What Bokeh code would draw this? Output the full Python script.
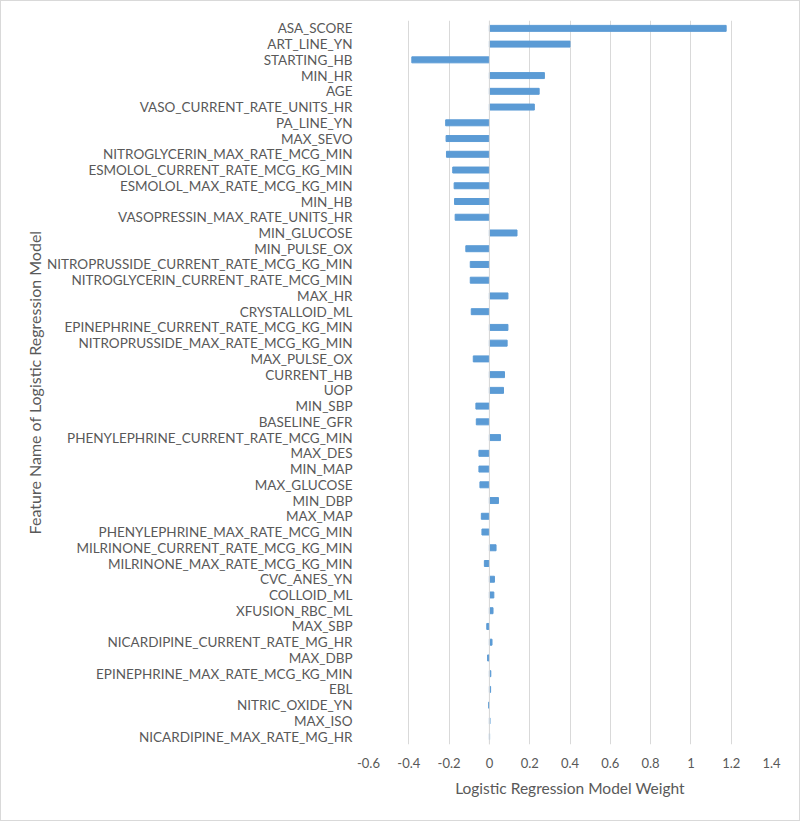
from bokeh.plotting import figure
from bokeh.layouts import column
from bokeh.models import FactorRange, FixedTicker, Span
from bokeh.embed import file_html
from bokeh.resources import INLINE

features = [
    "ASA_SCORE", "ART_LINE_YN", "STARTING_HB", "MIN_HR", "AGE",
    "VASO_CURRENT_RATE_UNITS_HR", "PA_LINE_YN", "MAX_SEVO",
    "NITROGLYCERIN_MAX_RATE_MCG_MIN", "ESMOLOL_CURRENT_RATE_MCG_KG_MIN",
    "ESMOLOL_MAX_RATE_MCG_KG_MIN", "MIN_HB", "VASOPRESSIN_MAX_RATE_UNITS_HR",
    "MIN_GLUCOSE", "MIN_PULSE_OX", "NITROPRUSSIDE_CURRENT_RATE_MCG_KG_MIN",
    "NITROGLYCERIN_CURRENT_RATE_MCG_MIN", "MAX_HR", "CRYSTALLOID_ML",
    "EPINEPHRINE_CURRENT_RATE_MCG_KG_MIN", "NITROPRUSSIDE_MAX_RATE_MCG_KG_MIN",
    "MAX_PULSE_OX", "CURRENT_HB", "UOP", "MIN_SBP", "BASELINE_GFR",
    "PHENYLEPHRINE_CURRENT_RATE_MCG_MIN", "MAX_DES", "MIN_MAP", "MAX_GLUCOSE",
    "MIN_DBP", "MAX_MAP", "PHENYLEPHRINE_MAX_RATE_MCG_MIN",
    "MILRINONE_CURRENT_RATE_MCG_KG_MIN", "MILRINONE_MAX_RATE_MCG_KG_MIN",
    "CVC_ANES_YN", "COLLOID_ML", "XFUSION_RBC_ML", "MAX_SBP",
    "NICARDIPINE_CURRENT_RATE_MG_HR", "MAX_DBP",
    "EPINEPHRINE_MAX_RATE_MCG_KG_MIN", "EBL", "NITRIC_OXIDE_YN", "MAX_ISO",
    "NICARDIPINE_MAX_RATE_MG_HR",
]

weights = [
    1.175, 0.400, -0.385, 0.273, 0.247,
    0.223, -0.217, -0.215,
    -0.213, -0.182,
    -0.175, -0.173, -0.170,
    0.137, -0.117, -0.095,
    -0.095, 0.092, -0.090,
    0.092, 0.088,
    -0.080, 0.075, 0.070, -0.067, -0.065,
    0.055, -0.052, -0.052, -0.047,
    0.045, -0.040, -0.037,
    0.033, -0.025,
    0.025, 0.022, 0.018, -0.013,
    0.013, -0.009,
    0.007, 0.006, -0.004, 0.003,
    0.001,
]

x_ticks = [-0.6, -0.4, -0.2, 0.0, 0.2, 0.4, 0.6, 0.8, 1.0, 1.2, 1.4]
x_tick_labels = ["-0.6", "-0.4", "-0.2", "0", "0.2", "0.4", "0.6", "0.8", "1", "1.2", "1.4"]

x_title = "Logistic Regression Model Weight"
y_title = "Feature Name of Logistic Regression Model"

FONT = "Lato"
TEXT = "#595959"
BAR = "#5B9BD5"
GRID = "#D9D9D9"

p = figure(
    width=778, height=819,
    y_range=FactorRange(factors=list(reversed(features)), range_padding=0),
    x_range=(-0.6, 1.4),
    output_backend="svg", toolbar_location=None,
    min_border_left=300, min_border_right=28,
    min_border_top=19, min_border_bottom=76,
)
p.margin = (0, 0, 0, 20)

p.hbar(y=features, right=weights, left=0, height=0.38, color=BAR)

p.outline_line_color = None
p.ygrid.grid_line_color = None
p.xgrid.grid_line_color = GRID
p.xgrid.grid_line_width = 1
p.xaxis.ticker = FixedTicker(ticks=x_ticks)
p.xaxis.major_label_overrides = {t: l for t, l in zip(x_ticks, x_tick_labels)}

zero = Span(location=0, dimension="height", line_color=GRID, line_width=1)
p.add_layout(zero)

for ax in (p.xaxis, p.yaxis):
    ax.axis_line_color = None
    ax.major_tick_line_color = None
    ax.minor_tick_line_color = None
    ax.major_label_text_font = FONT
    ax.major_label_text_color = TEXT
    ax.axis_label_text_font = FONT
    ax.axis_label_text_color = TEXT
    ax.axis_label_text_font_style = "normal"

p.xaxis.major_label_text_font_size = "13px"
p.xaxis.major_label_standoff = 7
p.xaxis.axis_label = x_title
p.xaxis.axis_label_text_font_size = "15.5px"
p.xaxis.axis_label_standoff = 8

p.yaxis.major_label_text_font_size = "13.5px"
p.yaxis.major_label_standoff = 10
p.yaxis.axis_label = y_title
p.yaxis.axis_label_text_font_size = "16px"
p.yaxis.axis_label_standoff = 0

root = column(p, styles={"border": "1px solid #D9D9D9"})

open("out.html", "w").write(file_html(root, INLINE))
